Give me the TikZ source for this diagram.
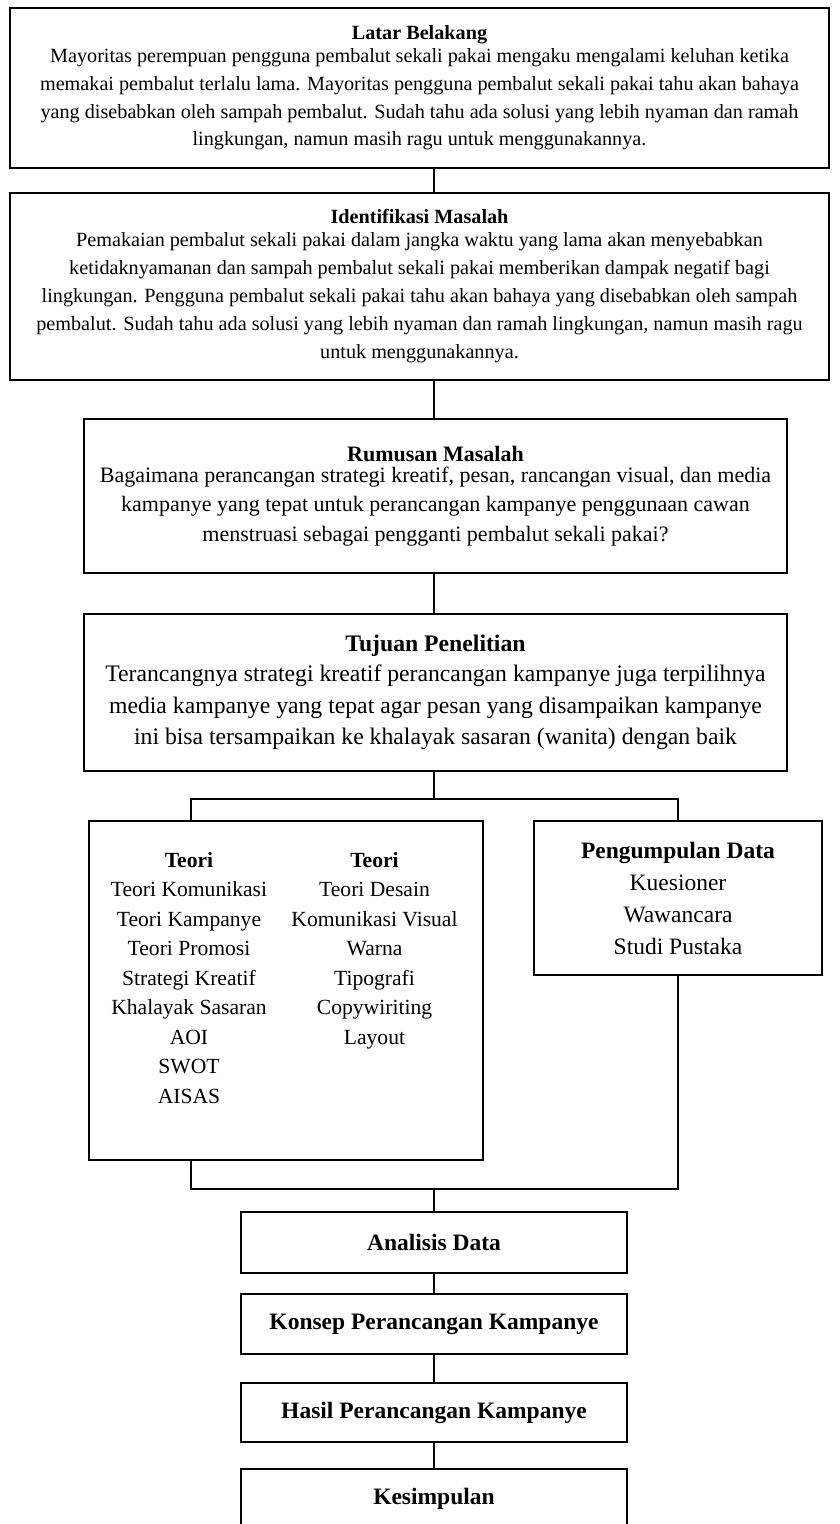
\documentclass[tikz,border=0pt]{standalone}
\usepackage{fontspec}
\setmainfont{Liberation Serif}
\begin{document}
\begin{tikzpicture}[x=1pt,y=-1pt,
  box/.style={draw, line width=2.2pt, rectangle, inner sep=0pt, align=center},
  topbox/.style={box, line width=2.6pt},
  endbox/.style={box, minimum width=386pt, font=\fontsize{23.5}{28}\selectfont\bfseries},
  coltext/.style={anchor=north, inner sep=0pt, font=\fontsize{21.6}{29.5}\selectfont},
  link/.style={line width=2.2pt}]
\useasboundingbox (0,0) rectangle (839,1524);
\clip (0,0) rectangle (839,1524);

\node[topbox, minimum width=819pt, minimum height=160pt, font=\fontsize{20.2}{27.7}\selectfont] (latar) at (419.5,88)
 {\textbf{Latar Belakang}\\[-5pt]
  Mayoritas perempuan pengguna pembalut sekali pakai mengaku mengalami keluhan ketika\\
  memakai pembalut terlalu lama. Mayoritas pengguna pembalut sekali pakai tahu akan bahaya\\
  yang disebabkan oleh sampah pembalut. Sudah tahu ada solusi yang lebih nyaman dan ramah\\
  lingkungan, namun masih ragu untuk menggunakannya.};

\node[topbox, minimum width=819pt, minimum height=187pt, font=\fontsize{20.2}{28}\selectfont] (ident) at (419.5,286.5)
 {\textbf{Identifikasi Masalah}\\[-5pt]
  Pemakaian pembalut sekali pakai dalam jangka waktu yang lama akan menyebabkan\\
  ketidaknyamanan dan sampah pembalut sekali pakai memberikan dampak negatif bagi\\
  lingkungan. Pengguna pembalut sekali pakai tahu akan bahaya yang disebabkan oleh sampah\\
  pembalut. Sudah tahu ada solusi yang lebih nyaman dan ramah lingkungan, namun masih ragu\\
  untuk menggunakannya.};

\node[box, minimum width=703pt, minimum height=154pt, font=\fontsize{22}{29.5}\selectfont] (rumusan) at (435.5,496)
 {\textbf{Rumusan Masalah}\\[-8.5pt]
  Bagaimana perancangan strategi kreatif, pesan, rancangan visual, dan media\\
  kampanye yang tepat untuk perancangan kampanye penggunaan cawan\\
  menstruasi sebagai pengganti pembalut sekali pakai?};

\node[box, minimum width=703pt, minimum height=157pt, font=\fontsize{23.7}{31.5}\selectfont] (tujuan) at (435.5,692.5)
 {\textbf{Tujuan Penelitian}\\[-1.5pt]
  Terancangnya strategi kreatif perancangan kampanye juga terpilihnya\\
  media kampanye yang tepat agar pesan yang disampaikan kampanye\\
  ini bisa tersampaikan ke khalayak sasaran (wanita) dengan baik};

\node[box, minimum width=394pt, minimum height=339pt] (teori) at (286,990.5) {};
\node[coltext] (teoriA) at (189,846.35)
 {\begin{tabular}{@{}c@{}}\textbf{Teori}\\ Teori Komunikasi\\ Teori Kampanye\\ Teori Promosi\\ Strategi Kreatif\\ Khalayak Sasaran\\ AOI\\ SWOT\\ AISAS\end{tabular}};
\node[coltext] (teoriB) at (374.5,846.35)
 {\begin{tabular}{@{}c@{}}\textbf{Teori}\\ Teori Desain\\ Komunikasi Visual\\ Warna\\ Tipografi\\ Copywiriting\\ Layout\end{tabular}};

\node[box, minimum width=288pt, minimum height=154pt, font=\fontsize{23.5}{32}\selectfont] (data) at (678,898)
 {\textbf{Pengumpulan Data}\\ Kuesioner\\ Wawancara\\ Studi Pustaka};

\node[endbox, minimum height=61pt] (analisis) at (434,1242.5) {Analisis Data};
\node[endbox, minimum height=60pt] (konsep) at (434,1324) {Konsep Perancangan Kampanye};
\node[endbox, minimum height=59pt] (hasil) at (434,1412.5) {Hasil Perancangan Kampanye};
\node[endbox, minimum height=60pt] (kesimpulan) at (434,1499) {Kesimpulan};

\coordinate (spine) at (434,0);
\coordinate (tleft) at (191,0);
\coordinate (split) at (434,799);
\coordinate (join) at (434,1189);

\draw[link] (latar.south -| spine) -- (ident.north -| spine);
\draw[link] (ident.south -| spine) -- (rumusan.north -| spine);
\draw[link] (rumusan.south -| spine) -- (tujuan.north -| spine);
\draw[link] (tujuan.south -| spine) -- (split);
\draw[link] (teori.north -| tleft) -- (tleft |- split) -- (split -| data) -- (data.north);
\draw[link] (teori.south -| tleft) -- (tleft |- join) -- (join -| data) -- (data.south);
\draw[link] (join) -- (analisis.north);
\draw[link] (analisis.south) -- (konsep.north);
\draw[link] (konsep.south) -- (hasil.north);
\draw[link] (hasil.south) -- (kesimpulan.north);
\end{tikzpicture}
\end{document}
